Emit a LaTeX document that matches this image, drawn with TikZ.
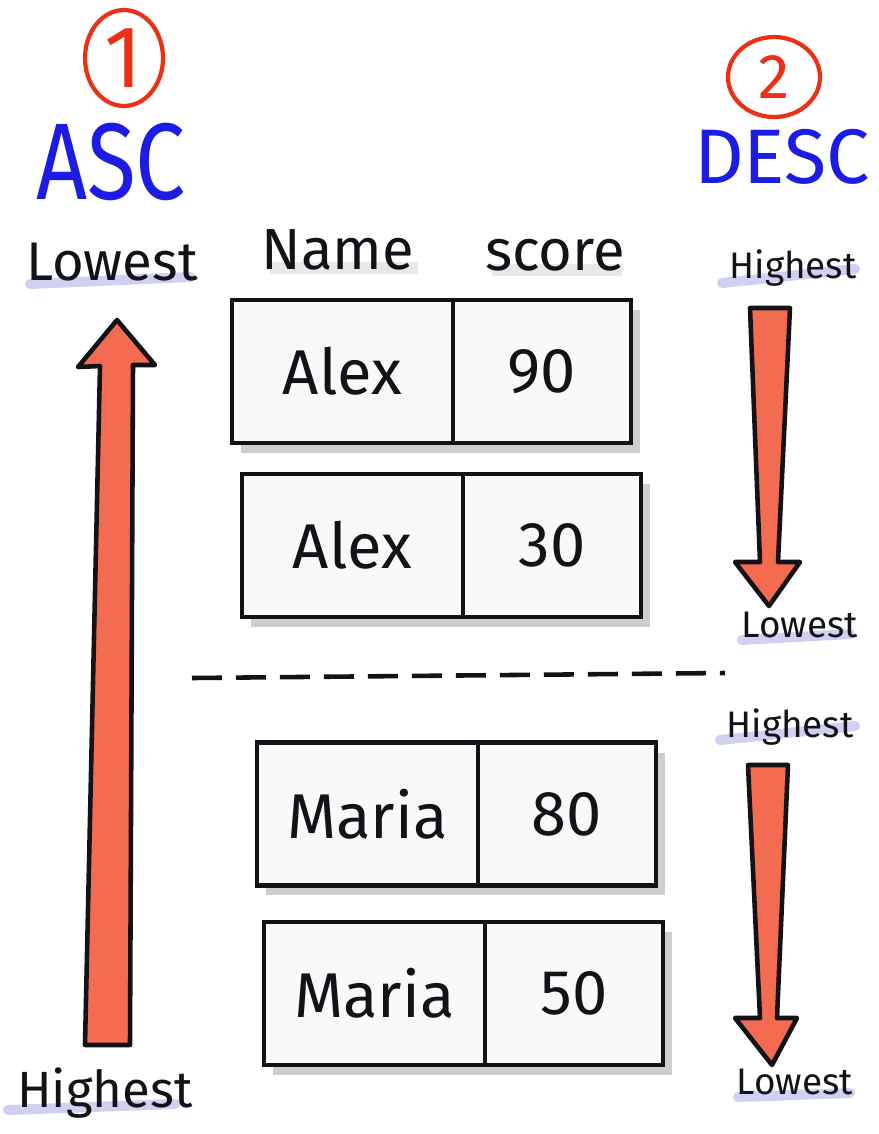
\documentclass[tikz,border=0pt]{standalone}
\usepackage{fontspec}
\setmainfont{Fira Sans}
\usetikzlibrary{positioning,shapes.geometric,shadows}
\definecolor{ringred}{RGB}{236,48,22}
\definecolor{inkblue}{RGB}{28,28,226}
\definecolor{arrowfill}{RGB}{243,108,82}
\definecolor{marker}{RGB}{208,208,242}
\definecolor{ink}{RGB}{18,18,24}
\begin{document}
\begin{tikzpicture}[x=0.02cm,y=-0.02cm]
\tikzstyle{namecell}=[draw=ink, line width=2.6pt, fill=gray!5, minimum width=4.42cm, minimum height=2.86cm, outer sep=0pt, inner sep=0pt, text=ink, font=\fontsize{36}{40}\selectfont, drop shadow={shadow xshift=0.18cm, shadow yshift=-0.2cm, fill=gray!70, opacity=0.55}]
\tikzstyle{scorecell}=[namecell, minimum width=3.56cm]
\tikzstyle{ring}=[draw=ringred, ellipse, line width=2.4pt, inner sep=0pt, text=ringred]
\tikzstyle{order}=[text=inkblue, inner sep=0pt]
\tikzstyle{tag}=[text=ink, inner sep=0pt]
\tikzstyle{underline}=[marker, line width=0.2cm, line cap=round]
\tikzstyle{colhead}=[gray!18, line width=0.24cm]
\tikzstyle{sortarrow}=[draw=ink, fill=arrowfill, line width=2.6pt, line join=round]

\useasboundingbox (0,0) rectangle (879,1134);

\draw (124,58) node[ring, minimum width=1.56cm, minimum height=1.92cm, font=\fontsize{50}{50}\selectfont] (one) {1};
\draw (774,77) node[ring, minimum width=1.84cm, minimum height=1.6cm, font=\fontsize{36}{36}\selectfont] (two) {2};
\draw (111,162) node[order, font=\fontsize{62}{62}\selectfont] (asc) {\scalebox{0.82}[1]{ASC}};
\draw (782,157) node[order, font=\fontsize{44}{44}\selectfont] (desc) {DESC};

\draw[underline] (30,284) -- (190,277);
\draw[underline] (8,1110) -- (175,1104);
\draw[underline] (722,283) -- (855,269);
\draw[underline] (742,640) -- (850,634);
\draw[underline] (720,740) -- (855,726);
\draw[underline] (738,1097) -- (850,1093);
\draw[colhead] (270,268) -- (418,268);
\draw[colhead] (492,270) -- (622,270);

\draw (112,262) node[tag, font=\fontsize{31}{31}\selectfont] (lowA) {Lowest};
\draw (105,1093) node[tag, font=\fontsize{29}{29}\selectfont] (highA) {Highest};
\draw (793,268) node[tag, font=\fontsize{21}{21}\selectfont] (highB) {Highest};
\draw (800,625) node[tag, font=\fontsize{21}{21}\selectfont] (lowB) {Lowest};
\draw (790,727) node[tag, font=\fontsize{21}{21}\selectfont] (highC) {Highest};
\draw (795,1082) node[tag, font=\fontsize{21}{21}\selectfont] (lowC) {Lowest};

\draw (338,250) node[tag, font=\fontsize{33}{33}\selectfont] (name) {Name};
\draw (555,255) node[tag, font=\fontsize{33}{33}\selectfont] (score) {score};

\draw (342.5,371.5) node[namecell] (n1) {Alex};
\node[scorecell, right=0pt of n1] (s1) {90};
\draw (352.5,545.5) node[namecell] (n2) {Alex};
\node[scorecell, right=0pt of n2] (s2) {30};
\draw (367.5,814) node[namecell] (n3) {Maria};
\node[scorecell, right=0pt of n3] (s3) {80};
\draw (374.5,993.5) node[namecell] (n4) {Maria};
\node[scorecell, right=0pt of n4] (s4) {50};

\coordinate (sepL) at (192,678);
\coordinate (sepR) at (725,673);
\draw[ink, line width=2.6pt, dash pattern=on 0.6cm off 0.28cm] (sepL) -- (sepR);

\draw[sortarrow] (85,1045) -- (100,366) -- (78,367) -- (117,320) -- (155,365) -- (133,365) -- (130,1045) -- cycle;
\draw[sortarrow] (750,308) -- (790,308) -- (778,562) -- (800,562) -- (769,606) -- (735,562) -- (760,562) -- cycle;
\draw[sortarrow] (748,765) -- (788,765) -- (777,1018) -- (797,1018) -- (772,1065) -- (735,1018) -- (760,1018) -- cycle;
\end{tikzpicture}
\end{document}
